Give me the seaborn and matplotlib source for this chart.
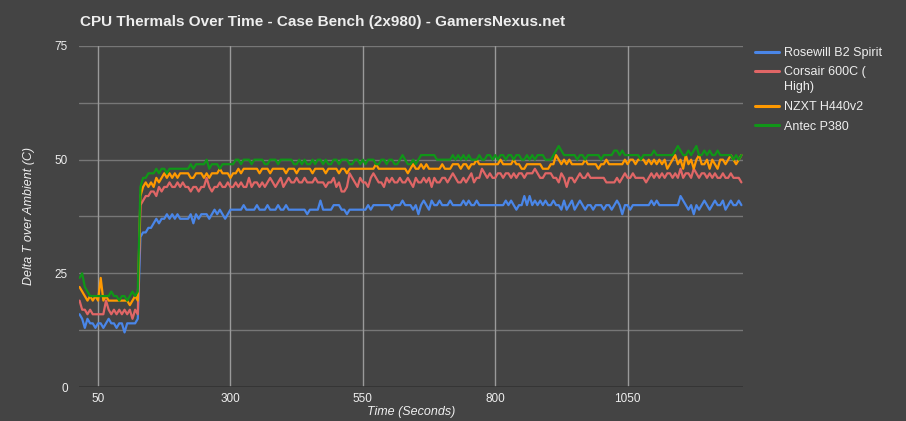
import numpy as np
import pandas as pd
import matplotlib.pyplot as plt
import seaborn as sns
from matplotlib.lines import Line2D

# Time axis (seconds), one sample every 5 s
time_s = list(range(15, 1270, 5))

rosewill = [
    16, 15, 13, 15, 14, 14, 13, 14, 14, 13,
    14, 15, 14, 14, 13, 14, 14, 12, 14, 14,
    14, 14, 15, 33, 34, 34, 35, 35, 36, 37,
    36, 37, 37, 38, 37, 38, 37, 38, 37, 37,
    37, 37, 38, 36, 38, 37, 38, 38, 38, 37,
    38, 39, 38, 39, 38, 37, 38, 39, 39, 39,
    39, 39, 40, 39, 39, 39, 39, 40, 39, 39,
    39, 40, 39, 39, 39, 40, 39, 39, 40, 39,
    39, 39, 39, 39, 39, 39, 38, 39, 39, 39,
    39, 41, 39, 39, 39, 39, 40, 40, 40, 39,
    39, 38, 39, 39, 39, 39, 39, 39, 39, 40,
    39, 40, 40, 40, 40, 40, 40, 40, 39, 40,
    40, 40, 41, 40, 40, 40, 39, 40, 38, 40,
    41, 40, 39, 41, 40, 40, 41, 40, 40, 40,
    41, 40, 40, 40, 40, 41, 40, 41, 40, 40,
    41, 40, 40, 40, 40, 40, 40, 40, 40, 40,
    40, 41, 40, 41, 40, 39, 40, 40, 42, 40,
    42, 40, 41, 40, 41, 40, 41, 40, 40, 41,
    40, 40, 39, 41, 39, 40, 41, 39, 40, 41,
    40, 39, 40, 40, 39, 40, 40, 40, 39, 40,
    40, 39, 40, 41, 40, 38, 40, 40, 39, 40,
    40, 40, 40, 40, 40, 40, 41, 40, 41, 40,
    40, 40, 40, 40, 40, 40, 40, 42, 41, 40,
    39, 40, 38, 40, 39, 40, 41, 40, 39, 40,
    41, 40, 40, 41, 39, 40, 41, 40, 40, 41,
    40,
]

corsair = [
    19, 17, 17, 16, 17, 16, 16, 16, 16, 16,
    19, 17, 16, 17, 16, 17, 16, 17, 16, 17,
    15, 17, 16, 40, 41, 42, 42, 43, 43, 42,
    44, 43, 44, 44, 45, 44, 44, 45, 44, 45,
    44, 44, 43, 44, 44, 43, 44, 44, 46, 44,
    43, 44, 44, 45, 44, 44, 45, 44, 44, 45,
    44, 45, 44, 44, 46, 44, 45, 45, 44, 45,
    44, 45, 46, 45, 44, 45, 46, 44, 45, 46,
    45, 45, 46, 45, 45, 46, 45, 45, 45, 46,
    45, 45, 45, 44, 45, 45, 46, 44, 45, 43,
    43, 44, 47, 46, 45, 44, 46, 45, 45, 44,
    46, 47, 46, 45, 45, 44, 46, 45, 46, 45,
    45, 46, 45, 45, 46, 45, 44, 46, 45, 45,
    46, 45, 46, 44, 46, 45, 45, 46, 46, 45,
    46, 47, 46, 45, 45, 46, 45, 46, 47, 45,
    46, 46, 48, 47, 46, 47, 46, 46, 47, 47,
    46, 47, 47, 46, 47, 46, 47, 47, 46, 47,
    47, 47, 48, 47, 46, 46, 47, 47, 47, 46,
    46, 45, 47, 46, 44, 46, 46, 45, 46, 47,
    46, 46, 47, 46, 46, 46, 46, 46, 46, 45,
    45, 45, 45, 46, 45, 46, 47, 46, 46, 47,
    46, 46, 46, 46, 45, 46, 47, 46, 47, 46,
    47, 46, 47, 47, 46, 47, 46, 48, 46, 47,
    47, 46, 48, 47, 46, 47, 47, 46, 47, 46,
    47, 46, 46, 47, 46, 46, 47, 46, 46, 46,
    45,
]

nzxt = [
    22, 21, 20, 19, 20, 19, 20, 19, 24, 19,
    20, 19, 19, 19, 19, 19, 19, 19, 19, 18,
    19, 20, 19, 42, 44, 45, 44, 45, 44, 46,
    45, 46, 47, 46, 47, 46, 47, 46, 47, 47,
    47, 47, 46, 46, 47, 47, 47, 46, 47, 46,
    47, 47, 47, 48, 47, 47, 47, 46, 47, 47,
    48, 47, 48, 48, 48, 48, 48, 48, 47, 48,
    48, 48, 47, 48, 48, 48, 48, 48, 47, 48,
    48, 48, 47, 48, 48, 48, 48, 48, 47, 48,
    48, 48, 48, 47, 48, 48, 48, 48, 47, 48,
    48, 47, 48, 48, 48, 48, 48, 48, 48, 48,
    48, 48, 49, 48, 48, 48, 48, 48, 48, 48,
    48, 48, 48, 48, 47, 48, 49, 48, 48, 49,
    48, 49, 48, 48, 48, 48, 48, 49, 48, 48,
    48, 49, 49, 49, 48, 49, 49, 48, 49, 49,
    50, 49, 49, 49, 49, 49, 49, 49, 49, 50,
    49, 49, 49, 49, 50, 49, 49, 48, 48, 49,
    49, 49, 49, 49, 49, 48, 48, 48, 49, 49,
    51, 50, 49, 50, 49, 50, 49, 49, 49, 49,
    49, 50, 49, 49, 49, 49, 48, 49, 49, 50,
    49, 49, 49, 49, 49, 49, 50, 49, 50, 50,
    49, 50, 50, 50, 49, 50, 49, 50, 49, 50,
    49, 50, 48, 49, 50, 51, 49, 50, 48, 51,
    49, 50, 48, 50, 51, 49, 49, 50, 48, 50,
    49, 48, 50, 50, 49, 50, 51, 50, 49, 50,
    51,
]

antec = [
    24, 25, 22, 21, 20, 20, 20, 20, 20, 20,
    20, 20, 21, 20, 20, 19, 20, 20, 19, 20,
    21, 20, 21, 44, 46, 46, 47, 47, 47, 48,
    47, 48, 48, 47, 48, 48, 48, 48, 48, 48,
    48, 48, 49, 48, 49, 49, 49, 49, 50, 48,
    49, 49, 49, 48, 49, 49, 49, 49, 49, 50,
    50, 49, 50, 50, 50, 49, 50, 50, 50, 50,
    49, 49, 50, 50, 50, 49, 50, 50, 50, 50,
    50, 49, 49, 50, 49, 50, 49, 49, 50, 49,
    50, 50, 49, 50, 49, 49, 50, 50, 49, 50,
    50, 50, 49, 49, 50, 50, 49, 50, 49, 50,
    50, 50, 49, 49, 50, 50, 49, 50, 50, 49,
    49, 50, 51, 50, 49, 49, 50, 49, 50, 51,
    51, 51, 51, 51, 51, 50, 50, 50, 50, 50,
    50, 51, 50, 51, 50, 51, 50, 51, 50, 50,
    50, 51, 50, 50, 51, 51, 50, 51, 50, 51,
    51, 50, 51, 51, 50, 51, 51, 50, 50, 51,
    50, 51, 50, 51, 51, 51, 50, 50, 50, 51,
    52, 53, 52, 51, 51, 51, 51, 51, 50, 51,
    51, 50, 51, 51, 51, 51, 51, 50, 51, 51,
    51, 51, 52, 52, 51, 52, 51, 51, 51, 51,
    51, 51, 50, 51, 51, 51, 51, 52, 51, 51,
    51, 51, 51, 51, 51, 52, 53, 52, 51, 51,
    52, 51, 52, 53, 51, 51, 52, 51, 52, 51,
    51, 52, 51, 51, 51, 51, 51, 50, 51, 50,
    51,
]

case_names = ["Rosewill B2 Spirit", "Corsair 600C (\nHigh)", "NZXT H440v2", "Antec P380"]
case_colors = ["#4a86e8", "#e06666", "#ff9900", "#109618"]
x_ticks = [50, 300, 550, 800, 1050]
y_ticks = [0, 25, 50, 75]

df = pd.DataFrame({
    "Time": time_s * 4,
    "Delta": rosewill + corsair + nzxt + antec,
    "Case": np.repeat(case_names, len(time_s)),
})

bg = "#444444"
txt = "#eeeeee"
W, H = 906, 421

sns.set_style("dark")
plt.rcParams["font.family"] = ["Liberation Sans", "DejaVu Sans"]

fig = plt.figure(figsize=(W / 100, H / 100), dpi=100, facecolor=bg)
ax = fig.add_axes([79 / W, 1 - 387 / H, (743 - 79) / W, (387 - 46) / H])
ax.set_facecolor(bg)

# Grid lines
for v in np.arange(12.5, 76, 12.5):
    ax.axhline(v, color="#777777", lw=1, zorder=0)
for v in x_ticks:
    ax.axvline(v, color="#9a9a9a", lw=1, zorder=0)
ax.axhline(0, color="#333333", lw=1.2, zorder=1)

sns.lineplot(data=df, x="Time", y="Delta", hue="Case", palette=case_colors,
             linewidth=1.6, ax=ax, legend=False, zorder=3)

ax.set_xlim(14, 1268)
ax.set_ylim(0, 75)
ax.set_xticks(x_ticks)
ax.set_yticks(y_ticks)
ax.tick_params(colors=txt, labelsize=8.5, length=0)
ax.tick_params(axis="x", pad=4)
ax.tick_params(axis="y", pad=8)
for s in ax.spines.values():
    s.set_visible(False)
ax.grid(False)

ax.set_xlabel("Time (Seconds)", color=txt, fontsize=9, fontstyle="italic", labelpad=1)
ax.set_ylabel("Delta T over Ambient (C)", color=txt, fontsize=9, fontstyle="italic", labelpad=14)

fig.text(80 / W, 1 - 22 / H, "CPU Thermals Over Time - Case Bench (2x980) - GamersNexus.net",
         color=txt, fontsize=11, fontweight="bold", va="center", ha="left")

# Legend drawn by hand so the two-line label sits like the reference
legend_rows = [51.7, 70.7, 106, 125]
for name, col, yr in zip(case_names, case_colors, legend_rows):
    fig.add_artist(Line2D([755 / W, 779 / W], [1 - yr / H, 1 - yr / H],
                          transform=fig.transFigure, color=col, lw=2.2))
    fig.text(784 / W, 1 - (yr - 4.5) / H, name, color=txt, fontsize=9,
             va="top", ha="left", linespacing=1.35)

fig.savefig("out.png", dpi=100, facecolor=bg)
